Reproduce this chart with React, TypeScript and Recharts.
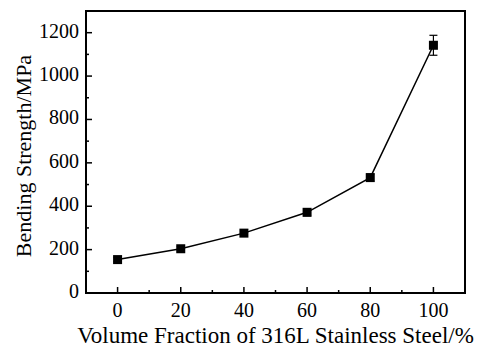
import { LineChart, Line, XAxis, YAxis, ErrorBar, ReferenceArea } from "recharts"

// volume fraction of 316L (%)
const fractions = [0, 20, 40, 60, 80, 100]
// bending strength (MPa)
const strength = [154, 204, 276, 372, 532, 1142]
// error bar half-range (MPa)
const errors = [10, 10, 10, 16, 16, 46]

const xTicks = [0, 10, 20, 30, 40, 50, 60, 70, 80, 90, 100]
const yTicks = [0, 100, 200, 300, 400, 500, 600, 700, 800, 900, 1000, 1100, 1200]

const data = fractions.map((f, i) => ({ x: f, y: strength[i], err: errors[i] }))

const FONT = "'Liberation Serif', 'Times New Roman', serif"

const XTick = (props: any) => {
  const { x, y, payload } = props
  const major = payload.value % 20 === 0
  return (
    <g>
      <line x1={x} y1={y} x2={x} y2={y - (major ? 6 : 3)} stroke="#000" strokeWidth={1.5} />
      {major && (
        <text x={x} y={y + 24} textAnchor="middle" style={{ fontSize: 20, fontFamily: FONT }} fill="#000">
          {payload.value}
        </text>
      )}
    </g>
  )
}

const YTick = (props: any) => {
  const { x, y, payload } = props
  const major = payload.value % 200 === 0
  return (
    <g>
      <line x1={x} y1={y} x2={x + (major ? 6 : 3)} y2={y} stroke="#000" strokeWidth={1.5} />
      {major && (
        <text x={x - 7} y={y + 5} textAnchor="end" style={{ fontSize: 20, fontFamily: FONT }} fill="#000">
          {payload.value}
        </text>
      )}
    </g>
  )
}

// rotated y-axis title, nudged down a few px like the original
const YTitle = (props: any) => {
  const vb = props.viewBox || {}
  const cx = 23
  const cy = (vb.y ?? 11) + (vb.height ?? 282) / 2 + 4
  return (
    <text
      x={cx}
      y={cy}
      transform={`rotate(-90, ${cx}, ${cy})`}
      textAnchor="middle"
      dominantBaseline="central"
      style={{ fontSize: 22, fontFamily: FONT }}
      fill="#000"
    >
      Bending Strength/MPa
    </text>
  )
}

const Square = (props: any) => {
  const { cx, cy } = props
  if (cx == null || cy == null) return null
  return <rect x={cx - 4.5} y={cy - 4.5} width={9} height={9} fill="#000" />
}

export default function App() {
  return (
    <div style={{ position: "absolute", left: 0, top: 0, background: "#fff" }}>
      <LineChart width={479} height={349} data={data} margin={{ top: 11, right: 14, bottom: 0, left: 0 }}>
        <XAxis
          dataKey="x"
          type="number"
          domain={[-10, 110]}
          ticks={xTicks}
          interval={0}
          height={56}
          tickSize={0}
          tickMargin={0}
          tick={<XTick />}
          axisLine={{ stroke: "#000", strokeWidth: 2 }}
          label={{ value: "Volume Fraction of 316L Stainless Steel/%", position: "insideBottom", offset: 6, style: { fontSize: 23, fontFamily: FONT, fill: "#000" } }}
        />
        <YAxis
          type="number"
          domain={[0, 1300]}
          ticks={yTicks}
          interval={0}
          width={86}
          tickSize={0}
          tickMargin={0}
          tick={<YTick />}
          axisLine={{ stroke: "#000", strokeWidth: 2 }}
          label={{ content: <YTitle /> }}
        />
        <ReferenceArea x1={-10} x2={110} y1={0} y2={1300} fill="none" stroke="#000" strokeWidth={2} ifOverflow="visible" />
        <Line
          type="linear"
          dataKey="y"
          stroke="#000"
          strokeWidth={1.5}
          dot={<Square />}
          activeDot={false}
          isAnimationActive={false}
        >
          <ErrorBar dataKey="err" direction="y" width={4} stroke="#000" strokeWidth={1.2} />
        </Line>
      </LineChart>
    </div>
  )
}
